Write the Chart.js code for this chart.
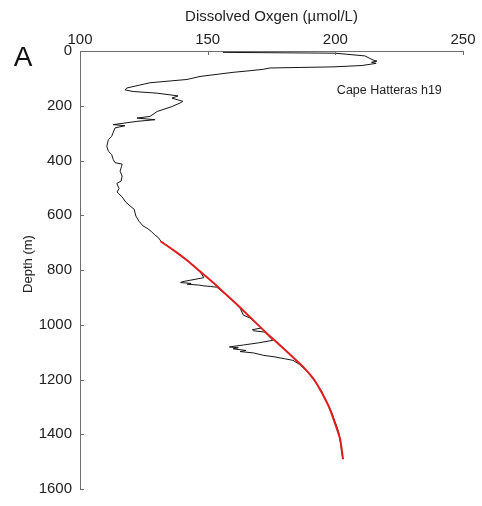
<!DOCTYPE html>
<html>
<head>
<meta charset="utf-8">
<script src="https://cdn.jsdelivr.net/npm/chart.js@4.4.0/dist/chart.umd.min.js"></script>
<style>
  html, body { margin: 0; padding: 0; background: #fff; }
  #wrap { width: 482px; height: 506px; position: relative; }
</style>
</head>
<body>
<div id="wrap"><canvas id="oxygenProfile"></canvas></div>
<script>
// measured profile (black) - dissolved oxygen in umol/L vs depth in m
const profileOxygen = [156.0, 199.9, 211.6, 214.8, 216.3, 214.2, 216.0, 210.5, 199.1, 174.4,
  171.7, 166.6, 159.9, 147.0, 141.9, 127.4, 118.4, 117.6, 120.8, 130.2,
  138.4, 136.0, 140.3, 139.2, 136.0, 130.2, 127.4, 122.3, 129.4, 122.3,
  113.0, 117.6, 113.7, 112.4, 111.1, 110.5, 111.1, 112.4, 113.0, 113.7,
  116.5, 116.3, 115.7, 116.5, 116.1, 114.4, 115.3, 114.5, 116.5, 118.0,
  120.0, 121.2, 121.9, 123.1, 124.7, 126.2, 127.8, 129.4, 130.7, 131.7,
  137.0, 142.0, 147.0, 148.5, 140.0, 139.4, 143.5, 142.0, 146.5, 148.5,
  151.0, 153.6, 157.0, 162.5, 164.0, 166.5, 168.5, 171.0, 167.5, 168.0,
  172.5, 175.5, 170.0, 164.0, 158.5, 162.0, 160.0, 165.0, 162.7, 168.0,
  172.0, 176.0, 180.0, 183.4, 186.0, 189.5, 191.5, 193.0, 194.5, 195.5,
  196.5, 197.6, 198.8, 199.5, 200.5, 201.3, 201.7, 202.2, 202.4, 203.0];
const profileDepth = [5, 8, 18, 33, 37, 41, 45, 53, 58, 62,
  67, 72, 78, 93, 104, 116, 135, 142, 148, 154,
  164, 172, 184, 190, 203, 221, 239, 245, 251, 257,
  269, 273, 281, 312, 324, 348, 366, 378, 396, 408,
  413, 421, 439, 457, 475, 484, 502, 515, 533, 553,
  569, 578, 603, 622, 639, 647, 658, 673, 682, 695,
  730, 765, 805, 828, 843, 846, 849, 852, 855, 858,
  860, 863, 888, 935, 965, 975, 990, 1012, 1018, 1022,
  1027, 1057, 1066, 1074, 1081, 1084, 1088, 1094, 1098, 1103,
  1112, 1117, 1124, 1130, 1145, 1175, 1200, 1220, 1240, 1262,
  1280, 1300, 1325, 1345, 1370, 1392, 1415, 1440, 1462, 1491];

// fitted deep profile (red)
const fitOxygen = [131.5, 137.0, 142.0, 147.0, 152.0, 157.0, 162.5, 168.0, 173.0, 178.0,
  183.0, 187.5, 191.3, 193.5, 195.5, 197.5, 199.2, 200.6, 201.8, 202.5, 203.0];
const fitDepth = [695, 730, 765, 805, 845, 888, 935, 985, 1030, 1072,
  1115, 1155, 1196, 1228, 1262, 1300, 1342, 1380, 1415, 1455, 1491];

const oxygenTicks = [100, 150, 200, 250];
const depthTicks = [0, 200, 400, 600, 800, 1000, 1200, 1400, 1600];

const axisColor = '#6e6e6e';
const textColor = '#222';
const fontFamily = '"Liberation Sans", Arial, sans-serif';

const toPoints = (xs, ys) => xs.map((v, i) => ({ x: v, y: ys[i] }));

// MATLAB style ticks pointing into the plot + panel labels
const extrasPlugin = {
  id: 'extras',
  afterDraw(chart) {
    const { ctx, chartArea, scales: { x, y } } = chart;
    ctx.save();
    ctx.strokeStyle = axisColor;
    ctx.lineWidth = 1;
    oxygenTicks.forEach(v => {
      const px = Math.round(x.getPixelForValue(v)) + 0.5;
      ctx.beginPath();
      ctx.moveTo(px, chartArea.top);
      ctx.lineTo(px, chartArea.top + 4);
      ctx.stroke();
    });
    depthTicks.forEach(v => {
      const py = Math.round(y.getPixelForValue(v)) + 0.5;
      ctx.beginPath();
      ctx.moveTo(chartArea.left, py);
      ctx.lineTo(chartArea.left + 4, py);
      ctx.stroke();
    });

    ctx.fillStyle = '#111';
    ctx.font = '28px ' + fontFamily;
    ctx.textAlign = 'center';
    ctx.textBaseline = 'middle';
    ctx.fillText('A', 23, 58);

    ctx.fillStyle = textColor;
    ctx.font = '13px ' + fontFamily;
    ctx.save();
    ctx.translate(28, 264);
    ctx.rotate(-Math.PI / 2);
    ctx.fillText('Depth (m)', 0, 0);
    ctx.restore();

    ctx.font = '12.5px ' + fontFamily;
    ctx.textAlign = 'left';
    ctx.fillText('Cape Hatteras h19', x.getPixelForValue(200.6), y.getPixelForValue(145));
    ctx.restore();
  }
};

const oxygenChart = new Chart(document.getElementById('oxygenProfile'), {
  type: 'scatter',
  data: {
    datasets: [{
      label: 'Fit',
      data: toPoints(fitOxygen, fitDepth),
      showLine: true,
      borderColor: 'rgb(222, 30, 30)',
      borderWidth: 2,
      pointRadius: 0,
      tension: 0.3,
      order: 0
    }, {
      label: 'Profile',
      data: toPoints(profileOxygen, profileDepth),
      showLine: true,
      borderColor: '#151515',
      borderWidth: 1,
      pointRadius: 0,
      tension: 0,
      order: 1
    }]
  },
  options: {
    responsive: true,
    maintainAspectRatio: false,
    animation: false,
    layout: { padding: { left: 0, right: 19, top: 0, bottom: 15 } },
    plugins: {
      legend: { display: false },
      tooltip: { enabled: false }
    },
    scales: {
      x: {
        type: 'linear',
        position: 'top',
        min: 100,
        max: 250,
        afterFit: s => { s.height = 51; },
        afterBuildTicks: s => { s.ticks = oxygenTicks.map(v => ({ value: v })); },
        grid: { display: false, drawTicks: false },
        border: { display: true, color: axisColor, width: 1 },
        ticks: { color: textColor, font: { family: fontFamily, size: 15 }, padding: 2, maxRotation: 0,
          callback: v => String(v) },
        title: {
          display: true,
          text: 'Dissolved Oxgen (\u00b5mol/L)',
          color: textColor,
          font: { family: fontFamily, size: 15 },
          padding: { top: 8, bottom: 0 }
        }
      },
      y: {
        type: 'linear',
        reverse: true,
        min: 0,
        max: 1600,
        afterFit: s => { s.width = 80; },
        afterBuildTicks: s => { s.ticks = depthTicks.map(v => ({ value: v })); },
        grid: { display: false, drawTicks: false },
        border: { display: true, color: axisColor, width: 1 },
        ticks: { color: textColor, font: { family: fontFamily, size: 15 }, padding: 8,
          callback: v => String(v) }
      }
    }
  },
  plugins: [extrasPlugin]
});
</script>
</body>
</html>
